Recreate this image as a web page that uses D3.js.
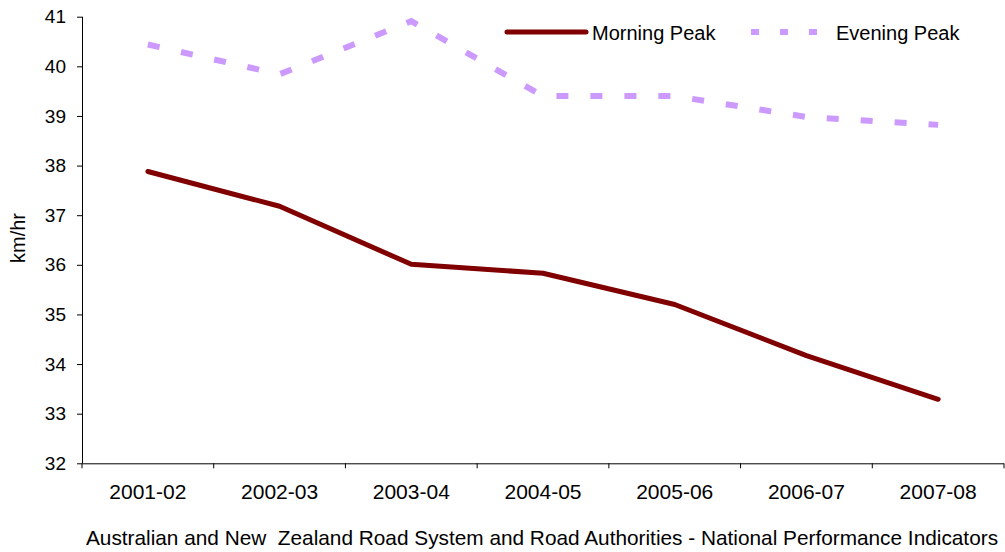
<!DOCTYPE html>
<html><head><meta charset="utf-8">
<script src="https://cdn.jsdelivr.net/npm/d3@7"></script>
<style>body{margin:0;background:#fff}svg{display:block}text{font-family:"Liberation Sans",Arial,sans-serif;fill:#000}</style>
</head><body><svg id="c" width="1005" height="552"></svg>
<script>
const categories = ["2001-02","2002-03","2003-04","2004-05","2005-06","2006-07","2007-08"];
const morningPeak = [37.88, 37.18, 36.01, 35.83, 35.2, 34.17, 33.29];
const eveningPeak = [40.44, 39.84, 40.91, 39.4, 39.4, 38.98, 38.82];
const yTicks = [32,33,34,35,36,37,38,39,40,41];
const seriesNames = ["Morning Peak","Evening Peak"];

const svg = d3.select("#c");
const L = 82, R = 1004, T = 16.7, B = 463.3;
const x = d3.scaleBand().domain(categories).range([L, R]);
const y = d3.scaleLinear().domain([32, 41]).range([B, T]);

// y axis
const ya = svg.append("g").attr("transform", `translate(${L},0)`)
  .call(d3.axisLeft(y).tickValues(yTicks).tickSize(5).tickPadding(11).tickFormat(d3.format("d")));
ya.selectAll("text").style("font-size","19px");
// x axis
const xa = svg.append("g").attr("transform", `translate(0,${B})`)
  .call(d3.axisBottom(x).tickSize(0).tickPadding(21));
xa.selectAll("text").style("font-size","21px");
// boundary ticks
svg.append("g").selectAll("line").data(categories.concat(["__end"])).join("line")
  .attr("x1", (d,i) => L + i * x.bandwidth()).attr("x2", (d,i) => L + i * x.bandwidth())
  .attr("y1", B).attr("y2", B + 5).attr("stroke", "#000");
svg.selectAll(".domain").attr("stroke","#000");
xa.select(".domain").attr("d", `M${L},0.5H${R}`);
ya.select(".domain").attr("d", `M0.5,${B}V${T}`);
svg.selectAll(".tick text").attr("fill","#000");

const line = d3.line().x((d,i) => x(categories[i]) + x.bandwidth()/2).y(d => y(d));
svg.append("path").datum(eveningPeak).attr("d", line).attr("fill","none")
  .attr("stroke","#cc99ff").attr("stroke-width",6).attr("stroke-dasharray","12,22");
svg.append("path").datum(morningPeak).attr("d", line).attr("fill","none")
  .attr("stroke","#800000").attr("stroke-width",5).attr("stroke-linejoin","round").attr("stroke-linecap","round");

// legend
svg.append("line").attr("x1",507).attr("x2",586).attr("y1",32).attr("y2",32)
  .attr("stroke","#800000").attr("stroke-width",5).attr("stroke-linecap","round");
svg.append("text").attr("x",592).attr("y",40).style("font-size","20px").text(seriesNames[0]);
svg.append("line").attr("x1",751).attr("x2",829).attr("y1",32).attr("y2",32)
  .attr("stroke","#cc99ff").attr("stroke-width",6).attr("stroke-dasharray","8,21");
svg.append("text").attr("x",836).attr("y",40).style("font-size","20px").text(seriesNames[1]);

// axis titles
svg.append("text").attr("transform","translate(25,238) rotate(-90)").attr("text-anchor","middle")
  .style("font-size","20px").text("km/hr");
svg.append("text").attr("x",542).attr("y",545).attr("text-anchor","middle").style("font-size","20.8px")
  .style("white-space","pre").text("Australian and New  Zealand Road System and Road Authorities - National Performance Indicators");
</script></body></html>
